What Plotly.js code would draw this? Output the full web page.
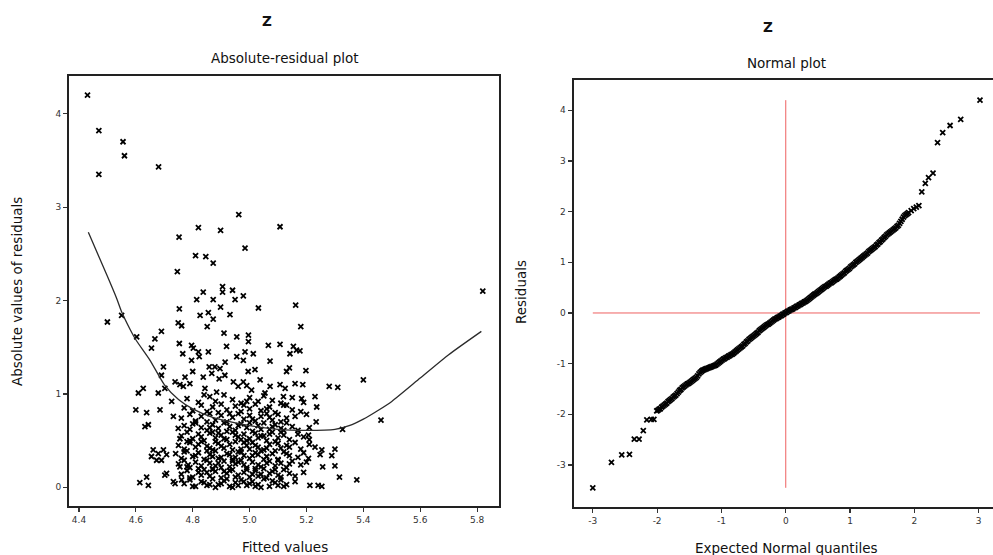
<!DOCTYPE html>
<html>
<head>
<meta charset="utf-8">
<script src="https://cdn.plot.ly/plotly-3.0.1.min.js"></script>
<style>
html,body{margin:0;padding:0;overflow:hidden;background:#fff;}
#chart{width:1000px;height:555px;}
</style>
</head>
<body>
<div id="chart"></div>
<script>
// ---------- Absolute-residual plot: sparse points (fitted value, |residual|) ----------
var fittedSparse = [
  4.43, 4.47, 4.47, 4.555, 4.56, 4.68, 4.962, 5.107, 4.984, 4.82,
  4.898, 4.752, 4.81, 4.846, 4.872, 4.746, 5.82, 4.837, 4.814, 4.872,
  4.905, 4.905, 4.94, 4.949, 4.978, 4.753, 4.826, 4.855, 4.872, 4.898,
  4.931, 5.031, 5.162, 5.18, 4.50, 4.55, 4.603, 4.749, 4.761, 4.851,
  4.69, 4.667, 4.655, 4.91, 4.955, 4.996, 4.996, 4.753, 4.796, 4.802,
  4.919, 5.066, 5.107, 5.154, 5.165, 5.177, 5.142, 5.013, 4.765, 4.82,
  4.855, 4.823, 4.955, 4.984, 4.978, 4.796, 5.072, 4.858, 4.896, 4.914,
  4.867, 4.878, 4.697, 4.69, 4.80, 4.773, 4.79, 4.767, 4.738, 4.755,
  5.14, 5.13, 5.198, 5.019, 4.837, 4.893, 4.913, 4.943, 4.978, 4.995,
  5.037, 4.99, 5.16, 5.187, 5.107, 5.125, 5.072, 5.28, 5.31, 5.40,
  4.626, 4.609, 4.679, 4.702, 4.843, 4.884, 4.96, 5.007, 5.054, 5.119,
  5.13, 5.183, 5.23, 5.236, 5.234, 5.327, 5.462, 5.207, 5.21, 5.23,
  5.254, 5.289, 5.30, 5.248, 5.207, 5.257, 5.30, 5.316, 5.377, 5.212,
  5.241, 5.254, 4.60, 4.638, 4.685, 4.732, 4.726, 4.632, 4.644, 4.749,
  4.755, 4.661, 4.679, 4.697, 4.655, 4.673, 4.69, 4.708, 4.784, 4.702,
  4.738, 4.755, 4.614, 4.638, 4.644, 4.732, 4.761, 4.708
];
var absResSparse = [
  4.20, 3.82, 3.35, 3.70, 3.55, 3.43, 2.92, 2.79, 2.56, 2.78,
  2.75, 2.68, 2.48, 2.47, 2.40, 2.31, 2.10, 2.09, 2.01, 2.01,
  2.15, 2.09, 2.11, 2.01, 2.05, 1.91, 1.84, 1.87, 1.80, 1.93,
  1.85, 1.92, 1.95, 1.72, 1.77, 1.84, 1.61, 1.76, 1.73, 1.72,
  1.67, 1.59, 1.49, 1.65, 1.61, 1.63, 1.56, 1.54, 1.52, 1.49,
  1.51, 1.52, 1.53, 1.51, 1.47, 1.46, 1.43, 1.43, 1.43, 1.45,
  1.45, 1.40, 1.40, 1.45, 1.36, 1.36, 1.35, 1.29, 1.27, 1.34,
  1.22, 1.29, 1.29, 1.20, 1.24, 1.18, 1.11, 1.08, 1.13, 1.10,
  1.28, 1.24, 1.25, 1.26, 1.18, 1.16, 1.20, 1.13, 1.13, 1.24,
  1.15, 1.09, 1.11, 1.10, 1.10, 1.06, 1.08, 1.08, 1.07, 1.15,
  1.06, 1.01, 1.01, 1.06, 1.06, 1.02, 1.08, 1.04, 1.01, 0.97,
  0.88, 0.95, 0.97, 0.86, 0.70, 0.62, 0.72, 0.56, 0.51, 0.43,
  0.40, 0.34, 0.41, 0.35, 0.31, 0.22, 0.23, 0.11, 0.08, 0.02,
  0.02, 0.01, 0.83, 0.80, 0.83, 0.76, 0.92, 0.65, 0.67, 0.63,
  0.52, 0.40, 0.36, 0.40, 0.33, 0.29, 0.29, 0.35, 0.24, 0.13,
  0.04, 0.22, 0.05, 0.11, 0.02, 0.06, 0.08, 0.15
];

// ---------- Absolute-residual plot: dense core (fitted value, |residual|) ----------
var fittedCore = [
  4.78, 4.82, 4.86, 4.88, 4.91, 4.94, 4.97, 5.00, 5.03, 5.05, 5.08, 5.11, 4.84, 4.99, 5.15, 5.19,
  4.77, 4.80, 4.83, 4.85, 4.87, 4.90, 4.92, 4.95, 4.97, 5.00, 5.02, 5.04, 5.07, 5.09, 5.12, 5.15, 4.89, 4.98, 5.06, 5.18,
  4.76, 4.79, 4.81, 4.83, 4.86, 4.88, 4.90, 4.92, 4.94, 4.96, 4.98, 5.00, 5.02, 5.04, 5.06, 5.08, 5.10, 5.13, 5.16, 4.85, 4.93, 5.01, 5.07, 5.11, 5.20,
  4.77, 4.79, 4.81, 4.83, 4.85, 4.87, 4.89, 4.91, 4.93, 4.95, 4.97, 4.99, 5.01, 5.03, 5.05, 5.07, 5.09, 5.11, 5.13, 5.15, 5.17, 4.80, 4.86, 4.92, 4.96, 5.00, 5.04, 5.08, 5.12, 5.21,
  4.76, 4.78, 4.80, 4.82, 4.84, 4.86, 4.88, 4.90, 4.92, 4.94, 4.96, 4.98, 5.00, 5.02, 5.04, 5.06, 5.08, 5.10, 5.12, 5.14, 5.17, 4.79, 4.83, 4.87, 4.91, 4.95, 4.99, 5.03, 5.07, 5.11, 5.19, 4.89, 4.97, 5.05,
  4.75, 4.77, 4.79, 4.81, 4.83, 4.85, 4.87, 4.89, 4.91, 4.93, 4.95, 4.97, 4.99, 5.01, 5.03, 5.05, 5.07, 5.09, 5.11, 5.13, 5.16, 5.18, 4.78, 4.82, 4.86, 4.90, 4.94, 4.98, 5.02, 5.06, 5.10, 5.14, 5.21, 4.88, 5.00,
  4.74, 4.76, 4.78, 4.80, 4.82, 4.84, 4.86, 4.88, 4.90, 4.92, 4.94, 4.96, 4.98, 5.00, 5.02, 5.04, 5.06, 5.08, 5.10, 5.12, 5.14, 5.17, 5.19, 4.77, 4.81, 4.85, 4.89, 4.93, 4.97, 5.01, 5.05, 5.09, 5.13, 4.87, 4.95, 5.03,
  4.75, 4.77, 4.79, 4.81, 4.83, 4.85, 4.87, 4.89, 4.91, 4.93, 4.95, 4.97, 4.99, 5.01, 5.03, 5.05, 5.07, 5.09, 5.11, 5.13, 5.15, 5.18, 4.78, 4.82, 4.86, 4.90, 4.94, 4.98, 5.02, 5.06, 5.10, 5.14, 4.88, 4.96, 5.04, 5.20,
  4.76, 4.78, 4.80, 4.82, 4.84, 4.86, 4.88, 4.90, 4.92, 4.94, 4.96, 4.98, 5.00, 5.02, 5.04, 5.06, 5.08, 5.10, 5.12, 5.14, 5.16, 4.79, 4.83, 4.87, 4.91, 4.95, 4.99, 5.03, 5.07, 5.11, 4.85, 4.93, 5.01, 5.09, 5.19,
  4.77, 4.79, 4.81, 4.83, 4.85, 4.87, 4.89, 4.91, 4.93, 4.95, 4.97, 4.99, 5.01, 5.03, 5.05, 5.07, 5.09, 5.11, 5.13, 4.80, 4.84, 4.88, 4.92, 4.96, 5.00, 5.04, 5.08, 5.12, 5.16, 4.86, 4.94, 5.02, 5.10, 4.90, 4.98
];
var absResCore = [
  0.95, 0.91, 0.97, 0.92, 0.99, 0.94, 0.90, 0.96, 0.92, 0.98, 0.93, 0.90, 0.99, 0.92, 0.96, 0.91,
  0.85, 0.82, 0.88, 0.81, 0.86, 0.89, 0.83, 0.87, 0.81, 0.84, 0.89, 0.82, 0.86, 0.80, 0.88, 0.83, 0.80, 0.88, 0.84, 0.81,
  0.74, 0.78, 0.71, 0.76, 0.79, 0.72, 0.77, 0.70, 0.75, 0.79, 0.73, 0.77, 0.71, 0.76, 0.79, 0.72, 0.78, 0.74, 0.76, 0.70, 0.79, 0.73, 0.75, 0.70, 0.78,
  0.66, 0.62, 0.69, 0.64, 0.61, 0.67, 0.63, 0.69, 0.65, 0.61, 0.68, 0.64, 0.60, 0.66, 0.69, 0.62, 0.67, 0.63, 0.69, 0.65, 0.61, 0.68, 0.64, 0.60, 0.66, 0.69, 0.62, 0.65, 0.61, 0.64,
  0.55, 0.59, 0.52, 0.57, 0.50, 0.58, 0.53, 0.56, 0.51, 0.59, 0.54, 0.57, 0.52, 0.58, 0.55, 0.50, 0.59, 0.53, 0.56, 0.51, 0.57, 0.50, 0.54, 0.59, 0.52, 0.56, 0.50, 0.53, 0.57, 0.59, 0.54, 0.58, 0.51, 0.55,
  0.45, 0.41, 0.48, 0.43, 0.49, 0.44, 0.40, 0.47, 0.42, 0.46, 0.49, 0.41, 0.45, 0.48, 0.43, 0.40, 0.46, 0.49, 0.42, 0.45, 0.48, 0.41, 0.49, 0.46, 0.42, 0.44, 0.40, 0.48, 0.45, 0.42, 0.47, 0.43, 0.46, 0.49, 0.41,
  0.36, 0.31, 0.39, 0.33, 0.37, 0.30, 0.35, 0.39, 0.32, 0.36, 0.30, 0.38, 0.34, 0.31, 0.37, 0.39, 0.33, 0.36, 0.30, 0.38, 0.34, 0.32, 0.37, 0.38, 0.34, 0.39, 0.31, 0.35, 0.38, 0.34, 0.30, 0.39, 0.36, 0.33, 0.32, 0.35,
  0.25, 0.29, 0.21, 0.27, 0.23, 0.29, 0.20, 0.26, 0.28, 0.22, 0.25, 0.29, 0.21, 0.27, 0.24, 0.20, 0.28, 0.23, 0.26, 0.21, 0.28, 0.24, 0.22, 0.20, 0.26, 0.21, 0.28, 0.24, 0.20, 0.26, 0.29, 0.25, 0.23, 0.27, 0.22, 0.27,
  0.14, 0.18, 0.11, 0.16, 0.19, 0.12, 0.17, 0.10, 0.15, 0.19, 0.13, 0.16, 0.11, 0.18, 0.14, 0.10, 0.17, 0.13, 0.19, 0.15, 0.12, 0.10, 0.13, 0.19, 0.17, 0.11, 0.19, 0.12, 0.15, 0.11, 0.16, 0.18, 0.14, 0.19, 0.16,
  0.04, 0.08, 0.01, 0.06, 0.02, 0.09, 0.03, 0.07, 0.01, 0.05, 0.08, 0.02, 0.06, 0.03, 0.09, 0.01, 0.05, 0.08, 0.03, 0.01, 0.05, 0.00, 0.09, 0.02, 0.04, 0.00, 0.07, 0.01, 0.06, 0.03, 0.00, 0.01, 0.02, 0.04, 0.06
];

// ---------- Smooth (lowess-like) curve on the absolute-residual plot ----------
var smoothX = [4.433, 4.50, 4.533, 4.55, 4.58, 4.60, 4.65, 4.70, 4.75, 4.80, 4.87, 4.95, 5.00, 5.10, 5.20, 5.30, 5.35, 5.40, 5.45, 5.50, 5.60, 5.70, 5.815];
var smoothY = [2.73, 2.26, 2.02, 1.88, 1.69, 1.58, 1.36, 1.10, 0.94, 0.84, 0.75, 0.69, 0.66, 0.62, 0.61, 0.62, 0.66, 0.73, 0.82, 0.92, 1.17, 1.42, 1.67];

// ---------- Normal plot: tails (expected normal quantile, residual) ----------
var qqTheoLow = [-3.00, -2.71, -2.55, -2.43, -2.355, -2.28, -2.215, -2.16, -2.09, -2.05, -2.006];
var qqResidLow = [-3.45, -2.95, -2.80, -2.79, -2.49, -2.49, -2.32, -2.11, -2.10, -2.10, -1.93];
var qqTheoHigh = [2.115, 2.17, 2.22, 2.29, 2.36, 2.44, 2.555, 2.72, 3.02];
var qqResidHigh = [2.39, 2.56, 2.67, 2.76, 3.36, 3.56, 3.70, 3.82, 4.20];

// ---------- Normal plot: dense middle ----------
var qqTheoMid = [
  -1.99, -1.97, -1.95, -1.93, -1.91, -1.89, -1.87, -1.85, -1.83, -1.81,
  -1.79, -1.77, -1.75, -1.73, -1.71, -1.69, -1.67, -1.65, -1.63, -1.61,
  -1.59, -1.57, -1.55, -1.53, -1.51, -1.49, -1.47, -1.45, -1.43, -1.41,
  -1.39, -1.37, -1.35, -1.33, -1.31, -1.29, -1.27, -1.25, -1.23, -1.21,
  -1.19, -1.17, -1.15, -1.13, -1.11, -1.09, -1.07, -1.05, -1.03, -1.01,
  -0.99, -0.97, -0.95, -0.93, -0.91, -0.89, -0.87, -0.85, -0.83, -0.81,
  -0.79, -0.77, -0.75, -0.73, -0.71, -0.69, -0.67, -0.65, -0.63, -0.61,
  -0.59, -0.57, -0.55, -0.53, -0.51, -0.49, -0.47, -0.45, -0.43, -0.41,
  -0.39, -0.37, -0.35, -0.33, -0.31, -0.29, -0.27, -0.25, -0.23, -0.21,
  -0.19, -0.17, -0.15, -0.13, -0.11, -0.09, -0.07, -0.05, -0.03, -0.01,
  0.01, 0.03, 0.05, 0.07, 0.09, 0.11, 0.13, 0.15, 0.17, 0.19,
  0.21, 0.23, 0.25, 0.27, 0.29, 0.31, 0.33, 0.35, 0.37, 0.39,
  0.41, 0.43, 0.45, 0.47, 0.49, 0.51, 0.53, 0.55, 0.57, 0.59,
  0.61, 0.63, 0.65, 0.67, 0.69, 0.71, 0.73, 0.75, 0.77, 0.79,
  0.81, 0.83, 0.85, 0.87, 0.89, 0.91, 0.93, 0.95, 0.97, 0.99,
  1.01, 1.03, 1.05, 1.07, 1.09, 1.11, 1.13, 1.15, 1.17, 1.19,
  1.21, 1.23, 1.25, 1.27, 1.29, 1.31, 1.33, 1.35, 1.37, 1.39,
  1.41, 1.43, 1.45, 1.47, 1.49, 1.51, 1.53, 1.55, 1.57, 1.59,
  1.61, 1.63, 1.65, 1.67, 1.69, 1.71, 1.73, 1.75, 1.77, 1.79,
  1.81, 1.83, 1.85, 1.87, 1.89, 1.91, 1.95, 1.99, 2.03, 2.07
];
var qqResidMid = [
  -1.92, -1.90, -1.89, -1.86, -1.84, -1.82, -1.80, -1.78, -1.75, -1.73,
  -1.71, -1.69, -1.66, -1.64, -1.62, -1.59, -1.56, -1.53, -1.51, -1.48,
  -1.46, -1.44, -1.42, -1.40, -1.39, -1.37, -1.35, -1.33, -1.31, -1.29,
  -1.27, -1.24, -1.20, -1.17, -1.15, -1.13, -1.12, -1.11, -1.10, -1.09,
  -1.08, -1.07, -1.06, -1.05, -1.04, -1.03, -1.01, -0.99, -0.97, -0.95,
  -0.93, -0.91, -0.90, -0.88, -0.87, -0.85, -0.84, -0.82, -0.81, -0.79,
  -0.77, -0.75, -0.73, -0.71, -0.69, -0.67, -0.65, -0.62, -0.60, -0.57,
  -0.55, -0.52, -0.50, -0.48, -0.46, -0.44, -0.42, -0.40, -0.38, -0.35,
  -0.33, -0.31, -0.29, -0.27, -0.25, -0.23, -0.22, -0.20, -0.18, -0.16,
  -0.14, -0.12, -0.11, -0.09, -0.08, -0.06, -0.05, -0.03, -0.02, 0.00,
  0.01, 0.03, 0.04, 0.06, 0.07, 0.08, 0.10, 0.11, 0.13, 0.14,
  0.16, 0.17, 0.19, 0.20, 0.22, 0.23, 0.25, 0.27, 0.29, 0.31,
  0.33, 0.35, 0.37, 0.38, 0.40, 0.42, 0.44, 0.46, 0.48, 0.50,
  0.52, 0.53, 0.55, 0.57, 0.59, 0.60, 0.62, 0.64, 0.66, 0.67,
  0.69, 0.71, 0.73, 0.75, 0.77, 0.79, 0.82, 0.84, 0.86, 0.88,
  0.91, 0.93, 0.95, 0.97, 1.00, 1.02, 1.04, 1.06, 1.08, 1.10,
  1.12, 1.14, 1.16, 1.18, 1.21, 1.23, 1.25, 1.27, 1.29, 1.31,
  1.34, 1.36, 1.39, 1.41, 1.44, 1.46, 1.49, 1.51, 1.54, 1.56,
  1.58, 1.60, 1.62, 1.64, 1.66, 1.68, 1.71, 1.73, 1.77, 1.81,
  1.85, 1.89, 1.92, 1.94, 1.96, 1.98, 2.02, 2.06, 2.09, 2.12
];

// ---------- tick labels ----------
var fittedTicks = [4.4, 4.6, 4.8, 5.0, 5.2, 5.4, 5.6, 5.8];
var fittedTickText = ['4.4', '4.6', '4.8', '5.0', '5.2', '5.4', '5.6', '5.8'];
var absTicks = [0, 1, 2, 3, 4];
var qqXTicks = [-3, -2, -1, 0, 1, 2, 3];
var qqXTickText = ['-3', '-2', '-1', '0', '1', '2', '3'];
var qqYTicks = [-3, -2, -1, 0, 1, 2, 3, 4];
var qqYTickText = ['-3', '-2', '-1', '0', '1', '2', '3', '4'];

// ---------- build ----------
var W = 1000, H = 555;
function px(x){ return x / W; }
function py(y){ return 1 - y / H; }

var fittedAll = fittedSparse.concat(fittedCore);
var absAll = absResSparse.concat(absResCore);
var qqTheo = qqTheoLow.concat(qqTheoMid, qqTheoHigh);
var qqResid = qqResidLow.concat(qqResidMid, qqResidHigh);

var qMin = Math.min.apply(null, qqTheo), qMax = Math.max.apply(null, qqTheo);
var rMin = Math.min.apply(null, qqResid), rMax = Math.max.apply(null, qqResid);

var markerStyle = {symbol: 'x-thin-open', size: 5, color: '#000', line: {color: '#000', width: 1.8}};
var FONT = 'DejaVu Sans, Liberation Sans, Arial, sans-serif';
var redCol = 'rgb(238,96,96)';

var traces = [
  {x: fittedAll, y: absAll, type: 'scatter', mode: 'markers', marker: markerStyle, xaxis: 'x', yaxis: 'y'},
  {x: smoothX, y: smoothY, type: 'scatter', mode: 'lines', line: {color: '#2a2a2a', width: 1.3, shape: 'spline', smoothing: 0.6}, xaxis: 'x', yaxis: 'y'},
  {x: [qMin, qMax], y: [0, 0], type: 'scatter', mode: 'lines', line: {color: redCol, width: 1}, xaxis: 'x2', yaxis: 'y2'},
  {x: [0, 0], y: [rMin, rMax], type: 'scatter', mode: 'lines', line: {color: redCol, width: 1}, xaxis: 'x2', yaxis: 'y2'},
  {x: qqTheo, y: qqResid, type: 'scatter', mode: 'markers', marker: markerStyle, xaxis: 'x2', yaxis: 'y2'}
];

function axisBase(extra){
  var a = {
    showgrid: false, zeroline: false, showline: true, mirror: true,
    linecolor: '#222', linewidth: 2,
    ticks: 'outside', ticklen: 4, tickwidth: 1.2, tickcolor: '#333',
    tickfont: {family: FONT, size: 9, color: '#333'},
    tickmode: 'array', fixedrange: true
  };
  for (var k in extra) a[k] = extra[k];
  return a;
}

var layout = {
  width: W, height: H,
  margin: {l: 0, r: 0, t: 0, b: 0},
  paper_bgcolor: '#fff', plot_bgcolor: '#fff',
  showlegend: false,
  font: {family: FONT, color: '#000'},
  xaxis: axisBase({domain: [px(69), px(499)], range: [4.365, 5.877], tickvals: fittedTicks, ticktext: fittedTickText, anchor: 'y'}),
  yaxis: axisBase({domain: [py(506), py(76)], range: [-0.2, 4.404], tickvals: absTicks, anchor: 'x'}),
  xaxis2: axisBase({domain: [px(573.5), px(998)], range: [-3.3, 3.3], tickvals: qqXTicks, ticktext: qqXTickText, anchor: 'y2'}),
  yaxis2: axisBase({domain: [py(506.7), py(80)], range: [-3.823, 4.598], tickvals: qqYTicks, ticktext: qqYTickText, anchor: 'x2'}),
  annotations: [
    {text: '<b>Z</b>', x: px(267), y: py(21), xref: 'paper', yref: 'paper', showarrow: false, xanchor: 'center', yanchor: 'middle', font: {family: FONT, size: 13.5, color: '#111'}},
    {text: 'Absolute-residual plot', x: px(285), y: py(58), xref: 'paper', yref: 'paper', showarrow: false, xanchor: 'center', yanchor: 'middle', font: {family: FONT, size: 13.5, color: '#111'}},
    {text: '<b>Z</b>', x: px(768), y: py(27), xref: 'paper', yref: 'paper', showarrow: false, xanchor: 'center', yanchor: 'middle', font: {family: FONT, size: 13.5, color: '#111'}},
    {text: 'Normal plot', x: px(786), y: py(63), xref: 'paper', yref: 'paper', showarrow: false, xanchor: 'center', yanchor: 'middle', font: {family: FONT, size: 13.5, color: '#111'}},
    {text: 'Fitted values', x: px(285), y: py(547), xref: 'paper', yref: 'paper', showarrow: false, xanchor: 'center', yanchor: 'middle', font: {family: FONT, size: 13.5, color: '#111'}},
    {text: 'Absolute values of residuals', x: px(17), y: py(292), xref: 'paper', yref: 'paper', showarrow: false, textangle: -90, xanchor: 'center', yanchor: 'middle', font: {family: FONT, size: 13.5, color: '#111'}},
    {text: 'Residuals', x: px(521), y: py(292), xref: 'paper', yref: 'paper', showarrow: false, textangle: -90, xanchor: 'center', yanchor: 'middle', font: {family: FONT, size: 13.5, color: '#111'}},
    {text: 'Expected Normal quantiles', x: px(786), y: py(548), xref: 'paper', yref: 'paper', showarrow: false, xanchor: 'center', yanchor: 'middle', font: {family: FONT, size: 13.5, color: '#111'}}
  ]
};

Plotly.newPlot('chart', traces, layout, {staticPlot: true, displayModeBar: false});
</script>
</body>
</html>
